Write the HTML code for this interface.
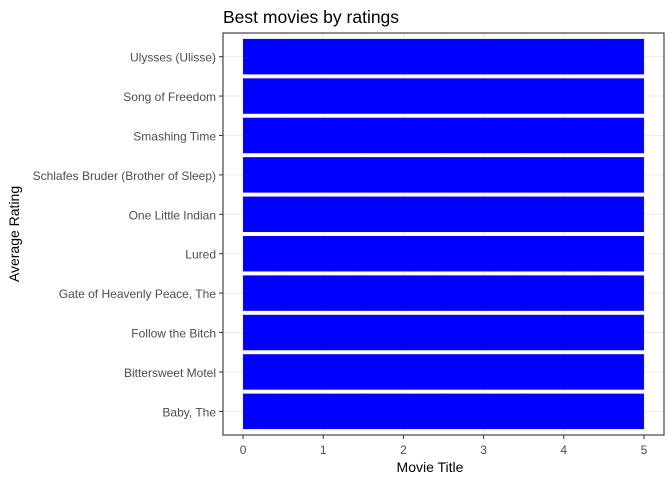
<!DOCTYPE html>
<html><head><meta charset="utf-8"><style>body{margin:0;background:#fff}svg text{font-family:"Liberation Sans",sans-serif}</style></head>
<body>
<svg id="c" width="672" height="480">
<text x="223" y="23" font-size="17.5" fill="#000">Best movies by ratings</text>
<text x="430" y="472" font-size="14" text-anchor="middle" fill="#000">Movie Title</text>
<text transform="translate(19,234) rotate(-90)" font-size="14" text-anchor="middle" fill="#000">Average Rating</text>
<g id="g"></g>
</svg>
<script>
const categories=["Ulysses (Ulisse)","Song of Freedom","Smashing Time","Schlafes Bruder (Brother of Sleep)","One Little Indian","Lured","Gate of Heavenly Peace, The","Follow the Bitch","Bittersweet Motel","Baby, The"];
const ratings=[5,5,5,5,5,5,5,5,5,5];
const xTicks=[0,1,2,3,4,5];
const L=223,R=664,T=33,B=435,xmin=-0.25,xmax=5.25;
const x=v=>L+(v-xmin)/(xmax-xmin)*(R-L);
const n=categories.length,step=(B-T)/(n-1+1.2);
const y=i=>T+step*(0.6+i);
const g=document.getElementById('g');const NS='http://www.w3.org/2000/svg';
function mk(t,a){const e=document.createElementNS(NS,t);for(const k in a)e.setAttribute(k,a[k]);g.appendChild(e);return e;}
for(let v=0;v<=5;v+=0.5){const e=mk('line',{x1:x(v),x2:x(v),y1:T,y2:B,stroke:'#ebebeb','stroke-width':v%1?0.5:1});

}
categories.forEach((c,i)=>{const e=mk('line',{x1:L,x2:R,y1:y(i),y2:y(i),stroke:'#ebebeb'});

});
categories.forEach((c,i)=>{const h=step*0.9;
const b=mk('rect',{x:x(0),y:y(i)-h/2,width:x(ratings[i])-x(0),height:h,fill:'#0000ff'});


const tk=mk('line',{x1:L-4,x2:L,y1:y(i),y2:y(i),stroke:'#333'});


const t=mk('text',{x:L-7,y:y(i)+5,'font-size':12,'text-anchor':'end',fill:'#4d4d4d'});t.textContent=c;

});
xTicks.forEach(v=>{const tk=mk('line',{x1:x(v),x2:x(v),y1:B,y2:B+4,stroke:'#333'});


const t=mk('text',{x:x(v),y:B+19,'font-size':12,'text-anchor':'middle',fill:'#4d4d4d'});t.textContent=v;

});
const p=mk('rect',{x:L,y:T,width:R-L,height:B-T,fill:'none',stroke:'#333','stroke-width':1.1});


</script>
</body></html>
